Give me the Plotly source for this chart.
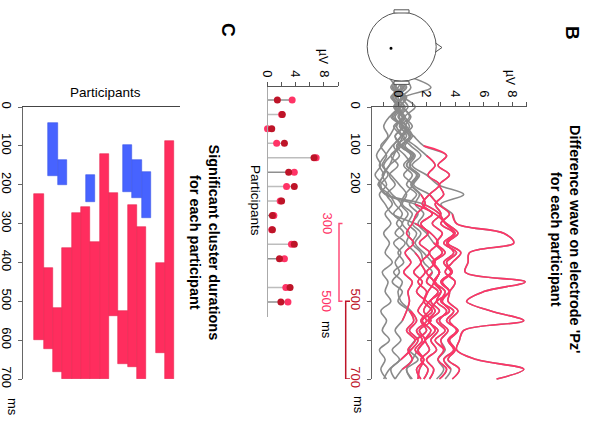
import plotly.graph_objects as go

W, H = 594, 428
def px(x): return x / W
def py(y): return 1 - y / H

FONT = "Liberation Sans, Arial, sans-serif"
PINK = "#FF3366"
DARKRED = "#BE1428"
BAR_RED = "#FF2D5E"
BAR_BLUE = "#4763FF"
GRAY = "#8a8a8a"

# ---------------- data ----------------
times = list(range(-75, 701, 25))
participants = list(range(1, 16))

wave_p01 = [0.3,-0.4,0.5,0.1,-0.5,0.4,0.9,0.2,1.0,0.6,1.5,1.1,2.2,2.8,3.6,3.0,3.9,3.2,4.1,3.4,3.8,3.1,3.6,2.7,2.2,1.6,2.0,1.2,0.8,1.4,0.6,1.0]
wave_p02 = [-0.2,0.4,-0.3,0.2,-0.6,-1.0,-0.7,-1.2,-0.8,-1.1,-0.5,0.1,0.6,0.3,1.0,0.7,1.3,1.0,1.6,1.8,2.4,2.0,2.8,2.3,2.9,2.2,2.6,1.9,1.4,1.0,0.6,0.9]
wave_p03 = [0.5,-0.2,0.3,-0.1,0.4,-0.3,0.2,-0.4,-0.9,-1.3,-1.0,-1.4,-0.6,-0.2,0.3,-0.1,0.4,-0.3,0.2,-0.2,0.1,-0.4,0.3,0.0,0.8,1.1,0.6,1.2,0.7,1.0,0.3,-0.2]
wave_p04 = [-0.3,0.2,-0.5,0.3,0.8,0.2,0.6,-0.1,0.5,0.9,0.4,1.0,0.5,0.2,0.7,0.3,0.8,0.6,1.2,1.6,1.1,1.7,1.3,2.0,2.6,2.1,2.8,2.3,2.7,2.0,2.5,2.2]
wave_p05 = [0.6,-0.3,0.4,1.2,0.5,1.0,0.3,0.9,1.6,1.0,2.0,2.8,4.6,3.0,3.8,4.1,7.4,8.1,5.0,4.9,4.7,8.9,6.0,4.8,6.5,8.8,4.6,4.3,4.1,5.5,8.8,6.9]
wave_p06 = [-0.4,0.3,-0.2,0.5,0.0,0.6,0.2,-0.3,0.1,-0.6,-1.0,-1.3,-0.9,1.2,2.6,3.4,4.2,3.5,4.4,3.8,3.3,4.0,3.6,3.1,3.6,2.7,3.3,2.6,3.2,2.8,3.4,2.9]
wave_p07 = [1.0,2.3,0.4,-0.2,0.5,0.1,0.8,0.4,1.1,0.6,1.3,0.9,1.5,1.2,1.8,1.4,2.0,2.5,3.1,2.4,2.9,2.6,3.3,3.0,3.9,3.4,4.2,3.6,4.0,3.5,4.3,3.8]
wave_p08 = [-0.6,-0.1,0.4,-0.2,0.3,0.8,0.4,1.2,2.0,2.6,2.1,2.9,2.2,1.7,2.4,1.6,2.1,1.5,2.2,1.6,1.9,1.4,2.0,1.8,2.4,1.7,2.3,1.9,2.2,1.6,2.1,1.8]
wave_p09 = [0.4,0.9,0.3,0.7,0.1,0.6,1.0,0.5,1.2,0.8,1.4,1.0,1.6,1.9,1.3,1.0,0.6,1.1,0.5,0.9,0.4,1.0,0.7,0.8,0.6,0.3,-0.2,0.2,-0.4,0.1,-0.5,-0.2]
wave_p10 = [0.1,-0.5,0.2,-0.3,0.3,-0.2,-0.6,-1.1,-1.5,-1.2,-1.6,-1.0,-0.4,0.2,-0.3,0.3,-0.2,0.5,0.0,0.4,-0.3,0.3,0.0,0.2,0.9,1.3,0.8,1.4,0.9,0.2,-0.6,-1.0]
wave_p11 = [0.3,-0.2,0.6,0.1,-0.4,0.3,-0.2,0.2,-0.5,-1.0,-0.7,-1.2,-0.8,1.8,2.9,3.3,4.0,3.4,3.9,3.2,3.7,3.0,3.6,3.5,4.2,3.6,4.1,3.5,3.9,3.2,3.7,3.3]
wave_p12 = [-0.2,0.3,-0.4,0.0,0.4,-0.1,0.3,0.0,-0.3,-0.6,-1.1,-0.8,-1.3,-0.9,-0.4,1.2,2.3,2.8,2.2,2.6,2.0,2.5,2.1,1.8,1.4,2.0,1.3,1.7,1.2,1.8,1.5,1.4]
wave_p13 = [0.5,0.0,-0.4,0.2,-0.3,0.4,-0.2,0.1,-0.5,0.0,-0.6,-0.2,-0.8,-0.4,-0.9,-0.5,-1.0,-0.6,-0.9,-0.4,-1.1,-0.7,-0.9,-0.5,-1.2,-0.8,-1.1,-0.6,-1.3,-0.9,-1.2,-0.8]
wave_p14 = [-0.1,0.5,0.0,0.4,-0.2,0.3,0.8,0.3,0.9,0.4,1.0,0.6,1.3,0.8,1.4,1.0,1.6,1.2,1.8,2.4,2.9,2.5,3.0,2.7,3.4,2.9,3.5,3.0,3.3,2.8,3.2,2.7]
wave_p15 = [0.0,0.6,-0.1,0.3,0.9,0.5,1.1,1.8,3.4,2.8,3.6,2.9,3.2,2.6,3.0,2.4,3.1,2.7,3.3,2.5,2.9,2.6,3.0,2.2,1.8,2.3,1.5,1.9,1.4,1.8,1.3,1.6]
waves = [wave_p01, wave_p02, wave_p03, wave_p04, wave_p05, wave_p06, wave_p07, wave_p08,
         wave_p09, wave_p10, wave_p11, wave_p12, wave_p13, wave_p14, wave_p15]

# significant cluster windows (ms)
red_start  = [225, 415, 518, 363, 274, 258, 347, 121, 222, 526, 251, 309, None, 401, 88]
red_end    = [600, 623, 681, 700, 700, 700, 700, 700, 539, 662, 668, 700, None, 634, 700]
blue_start = [None, 41, 137, None, None, 176, None, None, None, 97, 137, 166, None, None, None]
blue_end   = [None, 178, 200, None, None, 245, None, None, None, 220, 234, 285, None, None, None]

# mean amplitude per window (µV)
amp_300_500 = [3.5, 2.0, 0.0, 1.3, 6.9, 3.8, 2.7, 1.8, 0.9, 0.6, 3.4, 2.4, -0.7, 2.6, 2.9]
amp_500_700 = [1.4, 2.1, 0.6, 2.4, 6.6, 3.0, 3.8, 2.0, 0.7, 0.7, 3.8, 1.7, -0.7, 3.2, 1.9]
significant = [True]*12 + [False] + [True]*2

time_ticks = list(range(0, 701, 100))
amp_ticks_B = list(range(-1, 10))
amp_ticks_C = [0, 2, 4, 6, 8, 10]

# ---------------- figure ----------------
fig = go.Figure()

for w in waves:
    fig.add_trace(go.Scatter(x=w, y=times, mode="lines", line=dict(color=GRAY, width=1.6, shape="spline"),
                             xaxis="x", yaxis="y", showlegend=False, hoverinfo="skip"))
for i, w in enumerate(waves):
    if red_start[i] is None:
        continue
    a = round(red_start[i] / 25) * 25
    b = round(red_end[i] / 25) * 25
    xs = [v for v, t in zip(w, times) if a <= t <= b]
    ys = [t for t in times if a <= t <= b]
    fig.add_trace(go.Scatter(x=xs, y=ys, mode="lines", line=dict(color=PINK, width=1.6, shape="spline"),
                             xaxis="x", yaxis="y", showlegend=False, hoverinfo="skip"))

fig.add_trace(go.Scatter(x=[None], y=[None], xaxis="x2", yaxis="y2", showlegend=False, hoverinfo="skip"))

for i, p in enumerate(participants):
    far = max(amp_300_500[i], amp_500_700[i], 0)
    col = "#bdbdbd" if (amp_500_700[i] > amp_300_500[i] and significant[i]) else "#8f8f8f"
    if p == 5:
        col = "#bdbdbd"
    fig.add_trace(go.Scatter(x=[0, far], y=[p, p], mode="lines", line=dict(color=col, width=1.5),
                             xaxis="x3", yaxis="y3", showlegend=False, hoverinfo="skip"))
sig_p = [p for p, s in zip(participants, significant) if s]
fig.add_trace(go.Scatter(x=[v for v, s in zip(amp_300_500, significant) if s], y=sig_p, mode="markers",
                         marker=dict(color=PINK, size=7), cliponaxis=False,
                         xaxis="x3", yaxis="y3", showlegend=False))
fig.add_trace(go.Scatter(x=[v for v, s in zip(amp_500_700, significant) if s], y=sig_p, mode="markers",
                         marker=dict(color=DARKRED, size=7), cliponaxis=False,
                         xaxis="x3", yaxis="y3", showlegend=False))
fig.add_trace(go.Scatter(x=[v for v, s in zip(amp_300_500, significant) if not s],
                         y=[p for p, s in zip(participants, significant) if not s], mode="markers",
                         marker=dict(color="#c4c4c4", size=7), cliponaxis=False,
                         xaxis="x3", yaxis="y3", showlegend=False))

rp = [p for p, s in zip(participants, red_start) if s is not None]
rs = [s for s in red_start if s is not None]
rd = [e - s for s, e in zip(red_start, red_end) if s is not None]
fig.add_trace(go.Bar(x=rp, y=rd, base=rs, width=1, marker=dict(color=BAR_RED, line=dict(color="#E8234F", width=0.6)),
                     xaxis="x4", yaxis="y4", showlegend=False))
bp = [p for p, s in zip(participants, blue_start) if s is not None]
bs = [s for s in blue_start if s is not None]
bd = [e - s for s, e in zip(blue_start, blue_end) if s is not None]
fig.add_trace(go.Bar(x=bp, y=bd, base=bs, width=1, marker=dict(color=BAR_BLUE, line=dict(color="#3d57e8", width=0.6)),
                     xaxis="x4", yaxis="y4", showlegend=False))

# ---------------- layout ----------------
ms_per_px = 1 / 0.3886
uv_per_px = 1 / 14.29
def t_of(pyv): return (pyv - 107) * ms_per_px
def a_of(pxv): return (pxv - 398) * uv_per_px

tickfont = dict(family=FONT, size=13, color="black")
common = dict(automargin=False, showgrid=False, zeroline=False)

fig.update_layout(
    width=W, height=H, margin=dict(l=0, r=0, t=0, b=0, pad=0), autosize=False,
    paper_bgcolor="white", plot_bgcolor="rgba(0,0,0,0)",
    font=dict(family=FONT, color="black"),
    bargap=0, showlegend=False,
    xaxis=dict(domain=[px(358), px(540)], range=[a_of(358), a_of(540)], visible=False, anchor="y", **common),
    yaxis=dict(domain=[py(385), py(76)], range=[t_of(385), t_of(76)], visible=False, anchor="x", **common),
    xaxis2=dict(domain=[px(372), px(527)], range=[a_of(372), a_of(527)], anchor="y2", side="top",
                showline=True, linecolor="#555", linewidth=1, ticks="outside", ticklen=4, tickcolor="#555",
                tickvals=amp_ticks_B, ticktext=["" if v % 2 else str(v) for v in amp_ticks_B],
                tickangle=90, tickfont=tickfont, **common),
    yaxis2=dict(domain=[py(379), py(107)], range=[700, 0], anchor="x2",
                showline=True, linecolor="#666", linewidth=1, ticks="outside", ticklen=4, tickcolor="#666",
                tickvals=time_ticks,
                ticktext=["0", "100", "200", "", "",
                          f"<span style='color:{DARKRED}'>500</span>", "",
                          f"<span style='color:{DARKRED}'>700</span>"],
                tickangle=90, tickfont=tickfont, **common),
    xaxis3=dict(domain=[px(267.5), px(338)], range=[0, 10], anchor="y3", side="top",
                showline=True, linecolor="#555", linewidth=1, ticks="outside", ticklen=4, tickcolor="#555",
                tickvals=amp_ticks_C, ticktext=["0", "", "4", "", "8", ""],
                tickangle=90, tickfont=tickfont, **common),
    yaxis3=dict(domain=[py(317), py(87)], range=[16.04, 0.1], anchor="x3",
                showline=True, linecolor="#aaaaaa", linewidth=1, ticks="", showticklabels=False, **common),
    xaxis4=dict(domain=[px(23), px(180)], range=[-0.97, 15.85], anchor="y4", side="top",
                showline=True, linecolor="#444", linewidth=1.2, ticks="", showticklabels=False, **common),
    yaxis4=dict(domain=[py(379), py(107)], range=[700, 0], anchor="x4",
                showline=True, linecolor="#666", linewidth=1, ticks="outside", ticklen=4, tickcolor="#666",
                tickvals=time_ticks, tickangle=90, tickfont=tickfont, **common),
)

def ann(x, y, text, size=13, color="black", angle=90, yref="paper"):
    fig.add_annotation(x=px(x), y=(py(y) if yref == "paper" else y), xref="paper", yref=yref,
                       text=text, textangle=angle, showarrow=False, xanchor="center", yanchor="middle",
                       font=dict(family=FONT, size=size, color=color))

ann(573, 33, "<b>B</b>", size=19)
ann(566, 239, "<b>Difference wave on electrode 'Pz'</b><br><b>for each participant</b>", size=14.5)
ann(510, 77, "µV", size=12)
ann(359, 405, "ms", size=13)
ann(327, 300, "300", size=13, color=PINK, yref="y2")
ann(327, 500, "500", size=13, color=PINK, yref="y2")
ann(327, 330, "ms", size=13)
ann(228, 30, "<b>C</b>", size=19)
ann(323, 56, "µV", size=12)
ann(256, 200, "Participants", size=13.5)
ann(204.5, 242, "<b>Significant cluster durations</b><br><b>for each participant</b>", size=14.5)
ann(105, 92, "Participants", size=13.5, angle=0)
ann(13, 407, "ms", size=13)

def bracket(x_line, x_cap, t0, t1, color):
    fig.add_shape(type="path", xref="paper", yref="y2",
                  path=f"M {px(x_cap)},{t0} L {px(x_line)},{t0} L {px(x_line)},{t1} L {px(x_cap)},{t1}",
                  line=dict(color=color, width=1.5))
bracket(339, 342.5, 300, 500, "#FF4D7A")
bracket(345.7, 350, 500, 700, DARKRED)

hc = "#555"
fig.add_shape(type="circle", xref="paper", yref="paper", x0=px(367.2), x1=px(436.2), y0=py(81.2), y1=py(12.2),
              line=dict(color=hc, width=1), fillcolor="white", layer="above")
fig.add_shape(type="path", xref="paper", yref="paper",
              path=f"M {px(435.6)},{py(43)} L {px(442)},{py(47.5)} L {px(435.6)},{py(52)}",
              line=dict(color=hc, width=1))
fig.add_shape(type="rect", xref="paper", yref="paper", x0=px(394), x1=px(409), y0=py(13), y1=py(9.8),
              line=dict(color=hc, width=1), fillcolor="white")
fig.add_shape(type="rect", xref="paper", yref="paper", x0=px(394), x1=px(409), y0=py(84.4), y1=py(81.2),
              line=dict(color=hc, width=1), fillcolor="white")
fig.add_shape(type="circle", xref="paper", yref="paper", x0=px(389.5), x1=px(392.5), y0=py(49.8), y1=py(46.8),
              line=dict(color="black", width=0), fillcolor="black", layer="above")

fig.write_html("out.html", config={"displayModeBar": False},
               post_script="document.body.style.margin='0px';")
